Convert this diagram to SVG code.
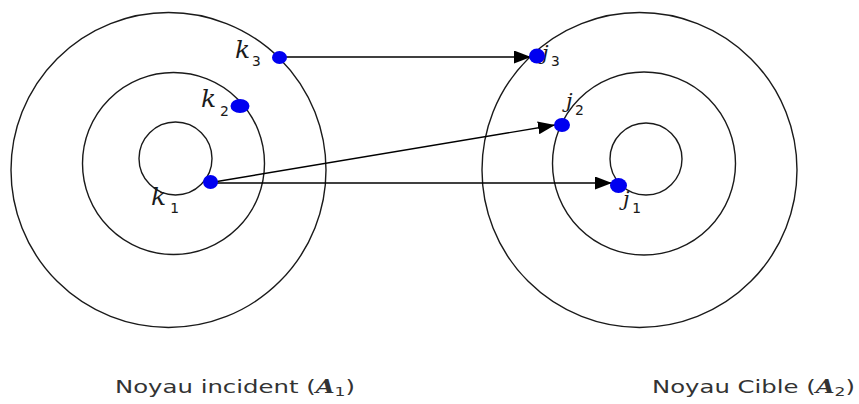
<svg xmlns="http://www.w3.org/2000/svg" width="859" height="404" viewBox="0 0 859 404">
<defs>
<style>
.ring{fill:none;stroke:#1a1a1a;stroke-width:1.4}
.dot{fill:#0000f0}
.conn{stroke:#000;stroke-width:1.4;fill:none}
.var{font-family:"DejaVu Serif",serif;font-style:italic;font-size:25px;fill:#1a1a1a}
.jv{font-size:21px}
.sub{font-family:"DejaVu Sans Mono",monospace;font-size:14.5px;fill:#1a1a1a}
.cap{font-family:"DejaVu Sans",sans-serif;font-size:18.5px;fill:#333}
.math{font-family:"DejaVu Serif",serif;font-style:italic;font-weight:bold}
</style>
<marker id="ah" markerUnits="userSpaceOnUse" markerWidth="18" markerHeight="13" refX="17" refY="6.5" orient="auto">
<path d="M0,0 L17,6.5 L0,13 z" fill="#000"/>
</marker>
</defs>
<rect width="859" height="404" fill="#fff"/>
<g id="noyau-incident">
<circle class="ring" cx="168.5" cy="170" r="157.5"/>
<circle class="ring" cx="173.5" cy="163.5" r="91"/>
<circle class="ring" cx="175.5" cy="158.5" r="36.5"/>
</g>
<g id="noyau-cible">
<circle class="ring" cx="639.5" cy="170" r="157.5"/>
<circle class="ring" cx="644" cy="163.5" r="91.5"/>
<circle class="ring" cx="646" cy="159" r="36"/>
</g>
<g id="labels">
<text class="var" x="235" y="58">k</text><text class="sub" x="252" y="66">3</text>
<text class="var" x="201" y="107">k</text><text class="sub" x="220" y="116">2</text>
<text class="var" x="151" y="205">k</text><text class="sub" x="170" y="213">1</text>
<text class="var jv" x="542" y="60">j</text><text class="sub" x="551" y="66">3</text>
<text class="var jv" x="566" y="108">j</text><text class="sub" x="575" y="115">2</text>
<text class="var jv" x="623" y="206">j</text><text class="sub" x="632" y="213">1</text>
</g>
<g id="connectors">
<line class="conn" x1="286" y1="57" x2="531" y2="57" marker-end="url(#ah)"/>
<line class="conn" x1="214" y1="182" x2="555" y2="125" marker-end="url(#ah)"/>
<line class="conn" x1="214" y1="183" x2="612" y2="183" marker-end="url(#ah)"/>
</g>
<g id="particles">
<ellipse id="k3" class="dot" cx="279.5" cy="57.5" rx="7.5" ry="6.5"/>
<ellipse id="k2" class="dot" cx="240" cy="106" rx="9.5" ry="7"/>
<ellipse id="k1" class="dot" cx="210.5" cy="182" rx="7.5" ry="7"/>
<ellipse id="j3" class="dot" cx="537" cy="56" rx="8" ry="7.5"/>
<ellipse id="j2" class="dot" cx="562" cy="125" rx="8" ry="7"/>
<ellipse id="j1" class="dot" cx="618.5" cy="185.5" rx="8.5" ry="7.5"/>
</g>
<g id="captions">
<text class="cap" x="115" y="393" textLength="240" lengthAdjust="spacingAndGlyphs">Noyau incident (<tspan class="math">A</tspan><tspan style="font-size:13px" dy="3">1</tspan><tspan dy="-3">)</tspan></text>
<text class="cap" x="652" y="393" textLength="203" lengthAdjust="spacingAndGlyphs">Noyau Cible (<tspan class="math">A</tspan><tspan style="font-size:13px" dy="3">2</tspan><tspan dy="-3">)</tspan></text>
</g>
</svg>
